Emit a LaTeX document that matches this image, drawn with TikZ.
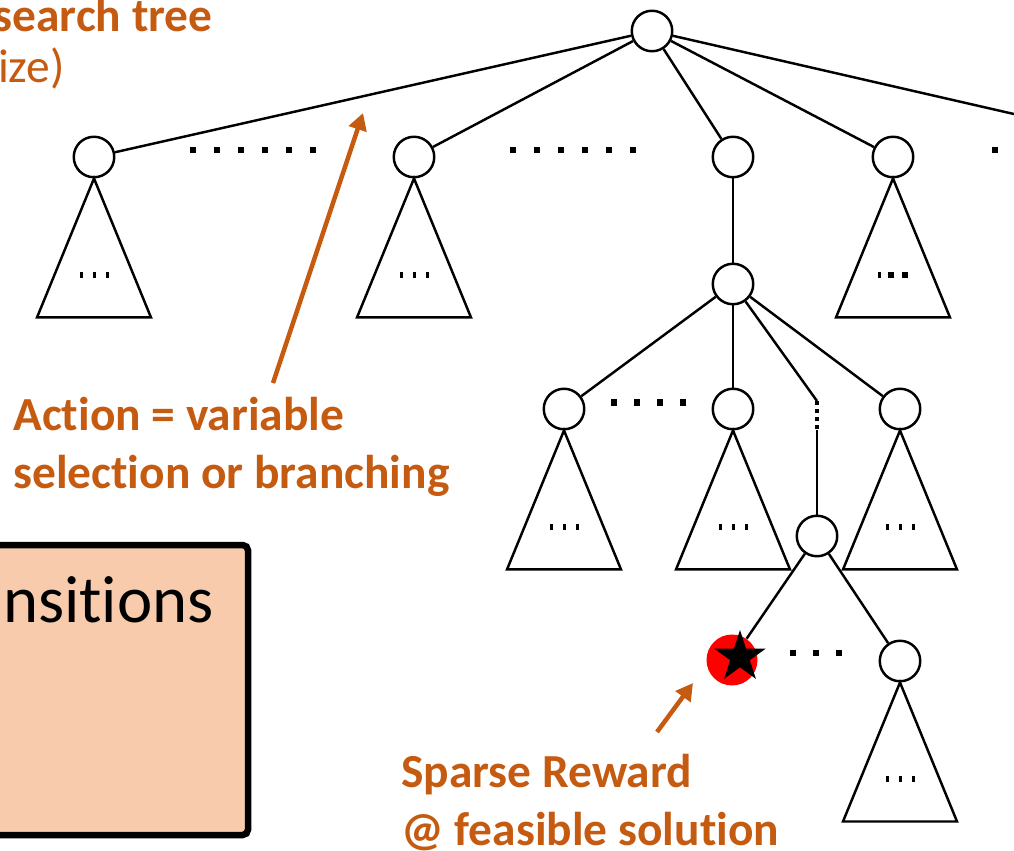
\documentclass[tikz,border=0pt]{standalone}
\usepackage{fontspec}
\setmainfont{Carlito}[Ligatures=NoCommon]
\usetikzlibrary{arrows.meta,shapes.geometric}

\definecolor{rust}{HTML}{C55A11}
\definecolor{peach}{HTML}{F8CBAD}

\tikzset{
    vertex/.style={circle, draw, line width=1.4pt, inner sep=0pt, minimum size=0.81cm, fill=white},
    edge/.style={line width=1.4pt},
    callout/.style={rust, line width=0.09cm, -{Triangle[length=0.34cm, width=0.36cm]}},
    note/.style={rust, inner sep=0pt, anchor=base west, font=\fontsize{27}{33}\selectfont\bfseries}
}

\begin{document}
\begin{tikzpicture}[x=0.02cm, y=-0.02cm]
    \useasboundingbox (0,0) rectangle (1014,851);

    % box on the left
    \draw[line width=0.13cm, rounded corners=3pt, fill=peach] (-40,545) rectangle (248,835);
    \node[anchor=base east, inner sep=0pt, font=\fontsize{38}{46}\selectfont] (trans) at (214,622) {nsitions};

    % tree nodes
    \node[vertex] (root) at (652,31) {};
    \node[vertex] (n1) at (94,157) {};
    \node[vertex] (n2) at (414,157) {};
    \node[vertex] (n3) at (733,157) {};
    \node[vertex] (n4) at (893,157) {};
    \coordinate (n5) at (1040,120);
    \node[vertex] (c) at (733,284) {};
    \node[vertex] (m1) at (564,409) {};
    \node[vertex] (m2) at (733,409) {};
    \node[vertex] (m3) at (817,536) {};
    \node[vertex] (m4) at (900,409) {};
    \node[circle, fill=red, inner sep=0pt, minimum size=1.02cm] (goal) at (732,660) {};
    \node[star, star points=5, star point ratio=2.618, fill=black, inner sep=0pt, minimum size=1.08cm] (win) at (740,657) {};
    \node[vertex] (b2) at (900,661) {};
    \coordinate (gap) at (817,401);
    \coordinate (gapend) at (817,430);

    % edges
    \foreach \n in {n1,n2,n3,n4,n5}
    \draw[edge] (root) -- (\n);
    \draw[edge] (n3) -- (c);
    \foreach \n in {m1,m2,m4}
    \draw[edge] (c) -- (\n);
    \draw[edge] (c) -- (gap);
    \draw[edge, line width=1.8pt, dash pattern=on 2.5pt off 2pt] (gap) -- (gapend);
    \draw[edge] (gapend) -- (m3);
    \draw[edge] (m3) -- (goal);
    \draw[edge] (m3) -- (b2);

    % subtrees
    \foreach \n in {n1,n2,n4,m1,m2,m4,b2}
    \draw[edge] (\n.south) -- ++(-57,139) -- ++(114,0) -- cycle;
    \foreach \n in {n1,n2,m1,m2,m4,b2}
    \foreach \d in {-13,0,13}
    \fill ([shift={(\d,118)}]\n.center) +(-1.5,-3) rectangle +(1.5,3);
    \foreach \d/\w in {-14/1.5,-2/3,12/3}
    \fill ([shift={(\d,118)}]n4.center) +(-\w,-3) rectangle +(\w,3);

    % dots between siblings
    \foreach \x in {193,217,...,313}
    \fill (\x,150) +(-3,-3) rectangle +(3,3);
    \foreach \x in {513,537,...,633}
    \fill (\x,150) +(-3,-3) rectangle +(3,3);
    \fill (995,150) +(-3,-3) rectangle +(3,3);
    \foreach \x in {614,637,660,683}
    \fill (\x,402) +(-3,-3.5) rectangle +(3,3.5);
    \foreach \x in {793,816,839}
    \fill (\x,653) +(-3,-3) rectangle +(3,3);

    % labels
    \node[note, anchor=base east] (tree) at (213,32) {search tree};
    \node[note, anchor=base east, font=\fontsize{27}{33}\selectfont] (size) at (65,83) {ize)};
    \node[note] (act1) at (13,430) {Action = variable};
    \node[note] (act2) at (13,488) {selection or branching};
    \node[note] (rew1) at (401,787) {Sparse Reward};
    \node[note] (rew2) at (401,845) {@ feasible solution};

    % arrows
    \coordinate (acttail) at (273,383);
    \coordinate (acttip) at (363,113);
    \coordinate (rewtail) at (657,732);
    \coordinate (rewtip) at (693,683);
    \draw[callout] (acttail) -- (acttip);
    \draw[callout] (rewtail) -- (rewtip);
\end{tikzpicture}
\end{document}
